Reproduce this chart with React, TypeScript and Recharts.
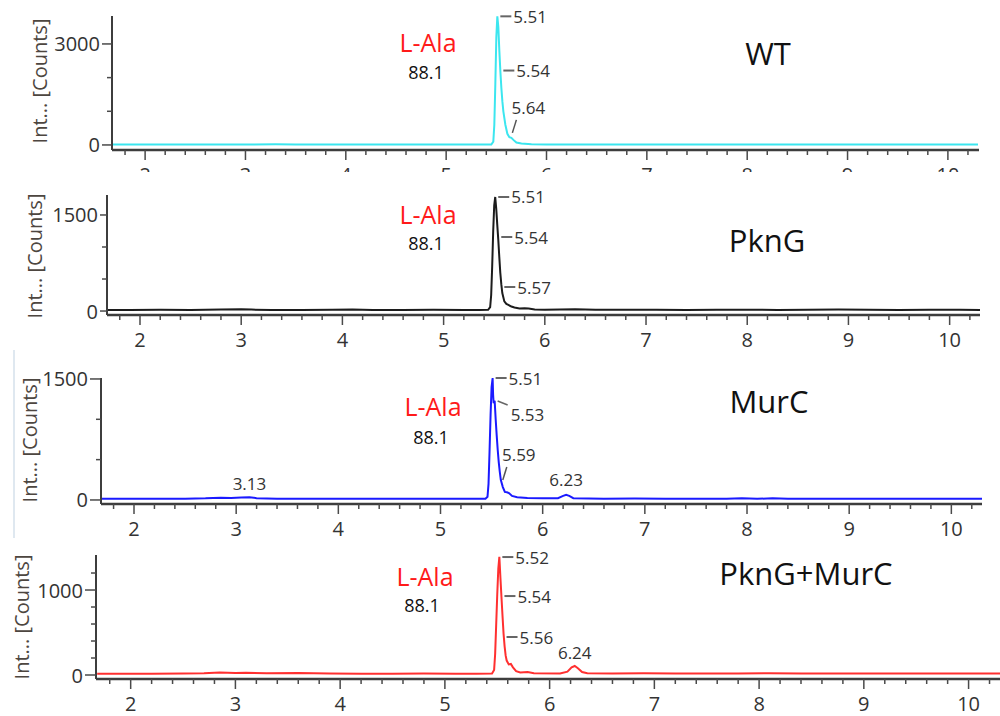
import React from 'react';
import { ComposedChart, Line, Scatter, XAxis, YAxis } from 'recharts';

type Pt = [number, number];
type Peak = { t: number; v: number; text: string; kind: 'dash' | 'diag' | 'slash' | 'above' };

const FONT = '"Open Sans", "Noto Sans", sans-serif';

// retention time axis (min), minor ticks every 0.2
const xTicks = [
  1.8, 2, 2.2, 2.4, 2.6, 2.8, 3, 3.2, 3.4, 3.6, 3.8, 4, 4.2, 4.4, 4.6, 4.8, 5, 5.2, 5.4, 5.6, 5.8,
  6, 6.2, 6.4, 6.6, 6.8, 7, 7.2, 7.4, 7.6, 7.8, 8, 8.2, 8.4, 8.6, 8.8, 9, 9.2, 9.4, 9.6, 9.8, 10, 10.2,
];
const xTickLabels = [2, 3, 4, 5, 6, 7, 8, 9, 10];

const sampleNames = ['WT', 'PknG', 'MurC', 'PknG+MurC'];
const compoundName = 'L-Ala';
const compoundMass = '88.1';
const yTitle = 'Int... [Counts]';

const wtTrace: Pt[] = [
  [1.68, 12], [1.9, 10], [2.2, 12], [2.5, 11], [2.8, 14], [3.0, 12], [3.3, 18], [3.5, 12], [3.8, 11],
  [4.1, 13], [4.4, 12], [4.7, 10], [5.0, 12], [5.2, 11], [5.35, 12], [5.45, 14], [5.47, 100], [5.48, 600],
  [5.49, 1800], [5.5, 3200], [5.51, 3820], [5.52, 3500], [5.53, 2800], [5.54, 2200], [5.55, 1700],
  [5.56, 1300], [5.57, 1000], [5.59, 600], [5.61, 330], [5.63, 230], [5.65, 210], [5.67, 150], [5.7, 70],
  [5.75, 40], [5.85, 20], [6.0, 14], [6.3, 12], [6.6, 13], [6.9, 15], [7.2, 12], [7.5, 11], [7.8, 13],
  [8.1, 12], [8.4, 11], [8.7, 13], [9.0, 12], [9.3, 11], [9.6, 12], [9.9, 11], [10.3, 12],
];
const pkngTrace: Pt[] = [
  [1.68, 18], [1.9, 16], [2.2, 20], [2.5, 18], [2.8, 22], [3.0, 26], [3.1, 22], [3.3, 18], [3.6, 17],
  [3.9, 20], [4.1, 24], [4.3, 18], [4.6, 17], [4.9, 19], [5.2, 18], [5.35, 17], [5.44, 18], [5.46, 60],
  [5.47, 250], [5.48, 700], [5.49, 1250], [5.5, 1650], [5.51, 1781], [5.52, 1600], [5.53, 1350],
  [5.54, 1120], [5.55, 850], [5.56, 600], [5.57, 420], [5.58, 280], [5.6, 150], [5.62, 110], [5.64, 95],
  [5.67, 70], [5.7, 55], [5.75, 40], [5.8, 45], [5.84, 40], [5.9, 25], [6.0, 20], [6.3, 26], [6.5, 20],
  [6.8, 19], [7.1, 21], [7.4, 18], [7.7, 20], [8.0, 19], [8.3, 18], [8.6, 20], [8.9, 22], [9.2, 19],
  [9.5, 18], [9.8, 20], [10.1, 19], [10.3, 18],
];
const murcTrace: Pt[] = [
  [1.68, 15], [1.9, 14], [2.2, 16], [2.5, 15], [2.7, 20], [2.85, 28], [2.95, 24], [3.05, 30], [3.13, 34],
  [3.2, 22], [3.4, 16], [3.7, 15], [4.0, 16], [4.3, 15], [4.6, 14], [4.9, 15], [5.2, 14], [5.44, 16],
  [5.46, 40], [5.47, 200], [5.48, 600], [5.49, 1050], [5.5, 1400], [5.51, 1512], [5.515, 1300], [5.52, 1200],
  [5.53, 1230], [5.54, 1000], [5.55, 800], [5.56, 620], [5.57, 470], [5.58, 350], [5.59, 250], [5.61, 160],
  [5.63, 100], [5.65, 95], [5.67, 85], [5.7, 50], [5.75, 35], [5.85, 25], [6.0, 20], [6.15, 22], [6.2, 50],
  [6.23, 65], [6.26, 50], [6.3, 22], [6.6, 16], [6.9, 17], [7.2, 15], [7.5, 16], [7.8, 15], [7.95, 22],
  [8.1, 15], [8.25, 20], [8.4, 15], [8.7, 16], [9.0, 15], [9.3, 16], [9.6, 15], [9.9, 16], [10.3, 15],
];
const pkngMurcTrace: Pt[] = [
  [1.68, 15], [1.9, 14], [2.2, 16], [2.5, 18], [2.7, 22], [2.85, 30], [3.0, 24], [3.1, 28], [3.3, 20],
  [3.6, 24], [3.9, 18], [4.2, 16], [4.5, 15], [4.8, 17], [5.1, 15], [5.3, 16], [5.45, 18], [5.47, 60],
  [5.48, 250], [5.49, 600], [5.5, 950], [5.51, 1250], [5.52, 1390], [5.53, 1150], [5.54, 920], [5.55, 700],
  [5.56, 490], [5.57, 340], [5.58, 230], [5.59, 170], [5.61, 125], [5.63, 130], [5.65, 90], [5.68, 45],
  [5.72, 30], [5.79, 35], [5.85, 20], [6.1, 18], [6.17, 40], [6.21, 90], [6.24, 106], [6.27, 80],
  [6.31, 35], [6.36, 20], [6.6, 18], [6.9, 20], [7.2, 17], [7.5, 19], [7.8, 18], [8.1, 20], [8.4, 17],
  [8.7, 18], [9.0, 19], [9.3, 17], [9.6, 18], [9.9, 19], [10.3, 18],
];

const wtPeaks: Peak[] = [
  { t: 5.51, v: 3820, text: '5.51', kind: 'dash' },
  { t: 5.54, v: 2210, text: '5.54', kind: 'dash' },
  { t: 5.64, v: 358, text: '5.64', kind: 'slash' },
];
const pkngPeaks: Peak[] = [
  { t: 5.51, v: 1781, text: '5.51', kind: 'dash' },
  { t: 5.54, v: 1156, text: '5.54', kind: 'dash' },
  { t: 5.57, v: 375, text: '5.57', kind: 'dash' },
];
const murcPeaks: Peak[] = [
  { t: 5.51, v: 1512, text: '5.51', kind: 'dash' },
  { t: 5.53, v: 1227, text: '5.53', kind: 'diag' },
  { t: 5.59, v: 248, text: '5.59', kind: 'slash' },
  { t: 6.23, v: 248, text: '6.23', kind: 'above' },
  { t: 3.13, v: 210, text: '3.13', kind: 'above' },
];
const pkngMurcPeaks: Peak[] = [
  { t: 5.52, v: 1388, text: '5.52', kind: 'dash' },
  { t: 5.54, v: 929, text: '5.54', kind: 'dash' },
  { t: 5.56, v: 447, text: '5.56', kind: 'dash' },
  { t: 6.24, v: 270, text: '6.24', kind: 'above' },
];

const wtYTicks = [0, 1000, 2000, 3000];
const wtYLabels = [0, 3000];
const pkngYTicks = [0, 500, 1000, 1500];
const pkngYLabels = [0, 1500];
const murcYTicks = [0, 500, 1000, 1500];
const murcYLabels = [0, 1500];
const pkngMurcYTicks = [0, 200, 400, 600, 800, 1000, 1200];
const pkngMurcYLabels = [0, 1000];

const panels = [
  {
    name: sampleNames[0], trace: wtTrace, peaks: wtPeaks, yTicks: wtYTicks, yLabels: wtYLabels,
    yDomain: [-150, 3830], xDomain: [1.67, 10.31], color: '#3ce6ef',
    top: 0, height: 172, plotTop: 16, plotBottom: 150, axisX: 112, plotRight: 979, majorLen: 10,
    titleAt: [40, 81], compoundAt: [428, 42], massAt: [426, 72], nameAt: [768, 53],
  },
  {
    name: sampleNames[1], trace: pkngTrace, peaks: pkngPeaks, yTicks: pkngYTicks, yLabels: pkngYLabels,
    yDomain: [-62, 1812], xDomain: [1.674, 10.296], color: '#1c1c1c',
    top: 172, height: 178, plotTop: 195, plotBottom: 315, axisX: 107, plotRight: 980, majorLen: 7,
    titleAt: [35, 256], compoundAt: [428, 214], massAt: [426, 243], nameAt: [767, 240],
  },
  {
    name: sampleNames[2], trace: murcTrace, peaks: murcPeaks, yTicks: murcYTicks, yLabels: murcYLabels,
    yDomain: [-50, 1512], xDomain: [1.677, 10.293], color: '#1a1aff',
    top: 350, height: 190, plotTop: 378, plotBottom: 504, axisX: 101, plotRight: 982, majorLen: 11,
    titleAt: [30, 440], compoundAt: [433, 406], massAt: [431, 437], nameAt: [769, 401],
  },
  {
    name: sampleNames[3], trace: pkngMurcTrace, peaks: pkngMurcPeaks, yTicks: pkngMurcYTicks, yLabels: pkngMurcYLabels,
    yDomain: [-47, 1412], xDomain: [1.669, 10.227], color: '#ff3030',
    top: 540, height: 176, plotTop: 555, plotBottom: 679, axisX: 96, plotRight: 1000, majorLen: 11,
    titleAt: [22, 617], compoundAt: [425, 576], massAt: [422, 605], nameAt: [806, 573],
  },
];

const XTick = ({ x, y, payload }: any) => {
  const v = payload.value;
  const major = xTickLabels.includes(v);
  return (
    <g>
      <line x1={x} x2={x} y1={y} y2={y + (major ? 10 : 5)} stroke="#4a4a4a" strokeWidth={1.5} />
      {major && (
        <text x={x} y={y + 24} textAnchor="middle" dominantBaseline="central" fontSize={20} fontFamily={FONT} fill="#333">
          {v}
        </text>
      )}
    </g>
  );
};

const makeYTick = (labels: number[], majorLen: number) => ({ x, y, payload }: any) => {
  const v = payload.value;
  const major = labels.includes(v);
  const len = major ? majorLen : 5;
  return (
    <g>
      <line x1={x} x2={x - len} y1={y} y2={y} stroke="#4a4a4a" strokeWidth={1.5} />
      {major && (
        <text x={x - len - 2} y={y} textAnchor="end" dominantBaseline="central" fontSize={20} fontFamily={FONT} fill="#333">
          {v}
        </text>
      )}
    </g>
  );
};

const PeakMark = (props: any) => {
  const { cx, cy, payload } = props;
  if (cx == null || cy == null || !payload) return null;
  const txt = { fontSize: 17, fontFamily: FONT, fill: '#333' };
  if (payload.kind === 'dash') {
    return (
      <g>
        <line x1={cx + 3} x2={cx + 14} y1={cy} y2={cy} stroke="#666" strokeWidth={2} />
        <text x={cx + 16} y={cy} dominantBaseline="central" {...txt}>{payload.text}</text>
      </g>
    );
  }
  if (payload.kind === 'diag') {
    return (
      <g>
        <line x1={cx + 3} x2={cx + 13} y1={cy} y2={cy + 4} stroke="#666" strokeWidth={1.5} />
        <text x={cx + 16} y={cy + 14} dominantBaseline="central" {...txt}>{payload.text}</text>
      </g>
    );
  }
  if (payload.kind === 'slash') {
    return (
      <g>
        <line x1={cx + 2} x2={cx + 6} y1={cy} y2={cy - 13} stroke="#555" strokeWidth={1.5} />
        <text x={cx + 18} y={cy - 25} textAnchor="middle" dominantBaseline="central" {...txt}>{payload.text}</text>
      </g>
    );
  }
  return (
    <text x={cx} y={cy} textAnchor="middle" dominantBaseline="central" {...txt}>{payload.text}</text>
  );
};

const overlay = (x: number, y: number, extra: React.CSSProperties): React.CSSProperties => ({
  position: 'absolute',
  left: x,
  top: y,
  transform: 'translate(-50%, -50%)',
  whiteSpace: 'nowrap',
  lineHeight: 1,
  fontFamily: FONT,
  ...extra,
});

export default function App() {
  return (
    <div style={{ position: 'absolute', left: 0, top: 0, width: 1000, height: 716, background: '#fff', overflow: 'hidden' }}>
      {panels.map((p) => {
        const data = p.trace.map(([t, v]) => ({ t, v }));
        const xh = p.height - (p.plotBottom - p.top);
        return (
          <div key={p.name} style={{ position: 'absolute', left: 0, top: p.top, width: 1000, height: p.height, overflow: 'hidden' }}>
            <ComposedChart
              width={1000}
              height={p.height}
              margin={{ top: p.plotTop - p.top, right: 1000 - p.plotRight, left: 0, bottom: 0 }}
            >
              <XAxis
                dataKey="t"
                type="number"
                domain={p.xDomain}
                ticks={xTicks}
                interval={0}
                tickSize={0}
                tickMargin={0}
                tickLine={false}
                height={xh}
                axisLine={{ stroke: '#3d3d3d', strokeWidth: 2.5 }}
                tick={(tp: any) => <XTick {...tp} />}
              />
              <YAxis
                type="number"
                domain={p.yDomain}
                ticks={p.yTicks}
                interval={0}
                tickSize={0}
                tickMargin={0}
                tickLine={false}
                width={p.axisX}
                axisLine={{ stroke: '#3d3d3d', strokeWidth: 2 }}
                tick={makeYTick(p.yLabels, p.majorLen)}
              />
              <Line
                data={data}
                dataKey="v"
                type="linear"
                stroke={p.color}
                strokeWidth={2}
                dot={false}
                isAnimationActive={false}
              />
              <Scatter
                data={p.peaks}
                dataKey="v"
                isAnimationActive={false}
                shape={(sp: any) => <PeakMark {...sp} />}
              />
            </ComposedChart>
          </div>
        );
      })}
      {panels.map((p) => (
        <React.Fragment key={'t-' + p.name}>
          <div style={overlay(p.titleAt[0], p.titleAt[1], { transform: 'translate(-50%, -50%) rotate(-90deg)', fontSize: 20, color: '#4d4640' })}>
            {yTitle}
          </div>
          <div style={overlay(p.compoundAt[0], p.compoundAt[1], { fontSize: 25, color: '#ff1a1a' })}>{compoundName}</div>
          <div style={overlay(p.massAt[0], p.massAt[1], { fontSize: 18, color: '#111' })}>{compoundMass}</div>
          <div style={overlay(p.nameAt[0], p.nameAt[1], { fontSize: 31, color: '#111' })}>{p.name}</div>
        </React.Fragment>
      ))}
      <div style={{ position: 'absolute', left: 13, top: 350, width: 2, height: 188, background: '#dfe8f0' }} />
    </div>
  );
}
